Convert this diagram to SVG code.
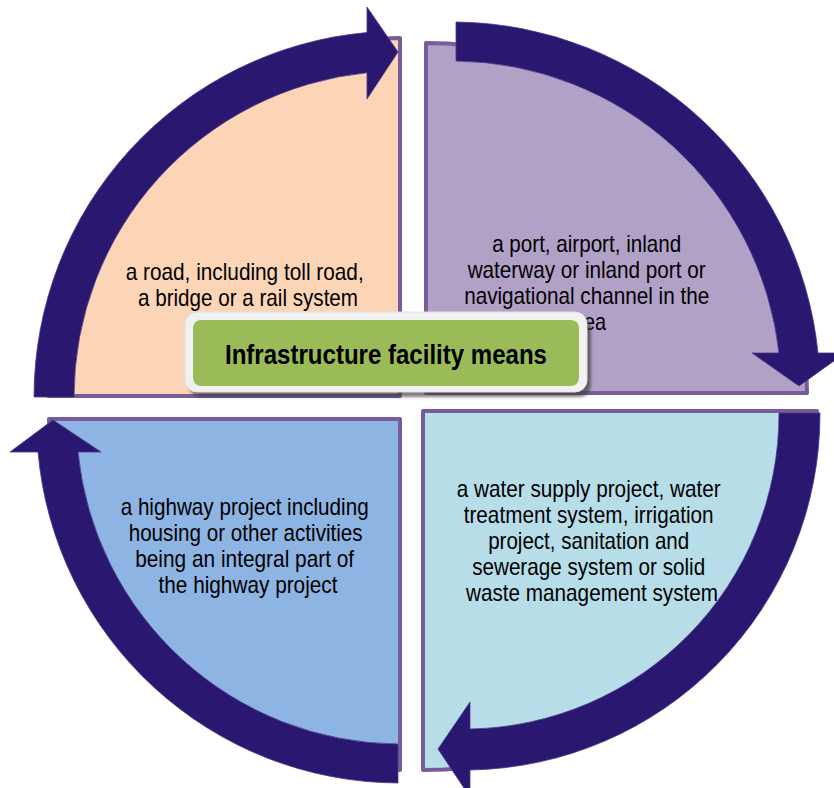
<svg xmlns="http://www.w3.org/2000/svg" width="834" height="788" viewBox="0 0 834 788">
  <defs>
    <style>
      .quad { stroke: #775C9B; stroke-width: 4; stroke-linejoin: round; }
      .arrow { fill: #2A176F; stroke: #4A3A8C; stroke-width: 0.8; stroke-linejoin: miter; }
      .body { font-family: "Liberation Sans Narrow", "Arial Narrow", "Liberation Sans", Arial, sans-serif; font-size: 24px; fill: #000; text-anchor: middle; }
      .title { font-family: "Liberation Sans Narrow", "Arial Narrow", "Liberation Sans", Arial, sans-serif; font-size: 28px; font-weight: bold; fill: #000; text-anchor: middle; }
    </style>
    <filter id="shadow" x="-10%" y="-20%" width="120%" height="150%">
      <feGaussianBlur stdDeviation="1.5"/>
    </filter>
  </defs>
  <rect width="834" height="788" fill="#FFFFFF"/>

  <g id="quad-top-left">
    <path class="quad" fill="#FBD5B5" d="M400,396 L48,396 A352,358 0 0 1 400,38 Z"/>
    <text class="body">
      <tspan x="248" y="280" textLength="238" lengthAdjust="spacingAndGlyphs">a road, including toll road,</tspan>
      <tspan x="248" y="306" textLength="220" lengthAdjust="spacingAndGlyphs">a bridge or a rail system</tspan>
    </text>
  </g>

  <g id="quad-top-right">
    <path class="quad" fill="#B2A1C7" d="M426,393 L426,43 A381,350 0 0 1 807,393 Z"/>
    <text class="body">
      <tspan x="590" y="252" textLength="189" lengthAdjust="spacingAndGlyphs">a port, airport, inland</tspan>
      <tspan x="590" y="278" textLength="238" lengthAdjust="spacingAndGlyphs">waterway or inland port or</tspan>
      <tspan x="590" y="304" textLength="245" lengthAdjust="spacingAndGlyphs">navigational channel in the</tspan>
      <tspan x="590" y="330" textLength="32" lengthAdjust="spacingAndGlyphs">sea</tspan>
    </text>
  </g>

  <g id="quad-bottom-right">
    <path class="quad" fill="#B7DDE8" d="M423,411 L817,411 A394,359 0 0 1 423,770 Z"/>
    <text class="body">
      <tspan x="592" y="497" textLength="264" lengthAdjust="spacingAndGlyphs">a water supply project, water</tspan>
      <tspan x="592" y="523" textLength="250" lengthAdjust="spacingAndGlyphs">treatment system, irrigation</tspan>
      <tspan x="592" y="549" textLength="201" lengthAdjust="spacingAndGlyphs">project, sanitation and</tspan>
      <tspan x="592" y="575" textLength="233" lengthAdjust="spacingAndGlyphs">sewerage system or solid</tspan>
      <tspan x="592" y="601" textLength="252" lengthAdjust="spacingAndGlyphs">waste management system</tspan>
    </text>
  </g>

  <g id="quad-bottom-left">
    <path class="quad" fill="#8EB4E3" d="M400,419 L400,770 A351,351 0 0 1 49,419 Z"/>
    <text class="body">
      <tspan x="248" y="515" textLength="248" lengthAdjust="spacingAndGlyphs">a highway project including</tspan>
      <tspan x="249" y="541" textLength="234" lengthAdjust="spacingAndGlyphs">housing or other activities</tspan>
      <tspan x="248" y="567" textLength="219" lengthAdjust="spacingAndGlyphs">being an integral part of</tspan>
      <tspan x="248" y="593" textLength="179" lengthAdjust="spacingAndGlyphs">the highway project</tspan>
    </text>
  </g>

  <g id="connectors">
    <path class="arrow" d="M34,397 A366,366 0 0 1 367,32.5 L367,7 L398,52 L367,99 L367,72.7 A326,326 0 0 0 74,397 Z"/>
    <path class="arrow" d="M456,22 A368,368 0 0 1 818,353 L845,353 L799,386 L752,353 L779,353 A329,329 0 0 0 456,61 Z"/>
    <path class="arrow" d="M820,413 A356,356 0 0 1 470,770 L470,797 L438,749 L470,702 L470,729 A315,315 0 0 0 779,413 Z"/>
    <path class="arrow" d="M398,783 A363,363 0 0 1 38,452 L10,452 L53,420 L101,452 L78,452 A324,324 0 0 0 398,744 Z"/>
  </g>

  <g id="center-label">
    <rect x="189" y="317" width="402" height="80" rx="12" fill="#3A3A3A" opacity="0.65" filter="url(#shadow)"/>
    <rect x="185" y="312" width="402" height="80" rx="12" fill="#F1F1F1" stroke="#E2E2E2" stroke-width="1"/>
    <rect x="193" y="320" width="386" height="66" rx="8" fill="#9BBB59"/>
    <text class="title" x="386" y="364" textLength="322" lengthAdjust="spacingAndGlyphs">Infrastructure facility means</text>
  </g>
</svg>
